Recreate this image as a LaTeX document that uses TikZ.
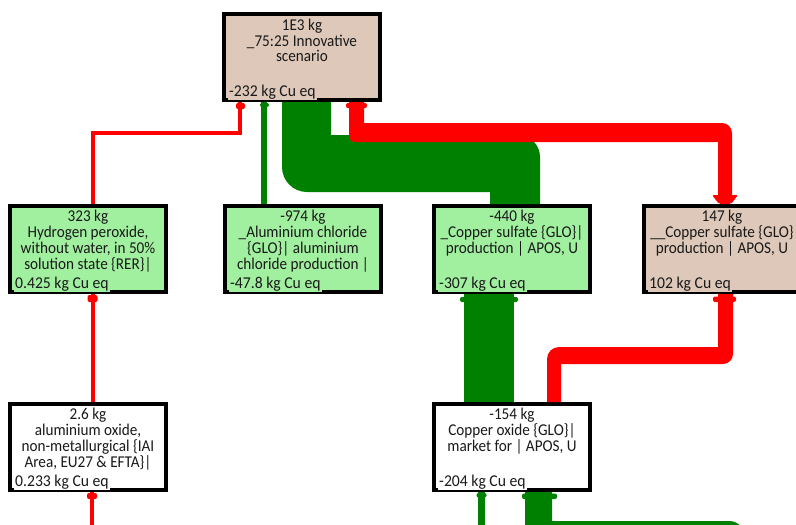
\documentclass[tikz,border=0pt]{standalone}
\usepackage{graphicx}
\usepackage{fontspec}
\setmainfont{Carlito}
\definecolor{beige}{RGB}{222,200,185}
\definecolor{lgreen}{RGB}{160,240,160}
\definecolor{fgreen}{RGB}{0,128,0}
\definecolor{fred}{RGB}{255,0,0}
\definecolor{ink}{RGB}{25,25,25}
\tikzset{
 box/.style={draw=black, line width=4pt, minimum width=156pt, minimum height=86pt, anchor=north west, inner sep=0pt, outer sep=2pt},
 maintxt/.style={anchor=north, inner sep=0pt, text=ink, font=\fontsize{16.5}{14.9}\selectfont},
 valtxt/.style={anchor=base west, inner xsep=1pt, inner ysep=0pt, text=ink, text height=11pt, text depth=4pt, font=\fontsize{16.5}{15}\selectfont},
 gflow/.style={fill=fgreen},
 rflow/.style={fill=fred},
 thinr/.style={draw=fred, line width=4pt},
 thing/.style={draw=fgreen, line width=6.5pt},
 capr/.style={fill=fred, rounded corners=2pt},
 capg/.style={fill=fgreen, rounded corners=2pt},
}
\newcommand{\st}{\rule{0pt}{11.5pt}}
\newcommand{\mt}[1]{\scalebox{0.92}[1]{\begin{tabular}{@{}c@{}}\st #1\end{tabular}}}
\newcommand{\vt}[1]{\scalebox{0.95}[1]{#1}}
\begin{document}
\begin{tikzpicture}[x=1pt,y=-1pt]
\useasboundingbox (0,0) rectangle (796,525);
% boxes
\node[box, fill=beige]  (T) at (222,12)  {};
\node[box, fill=lgreen] (H) at (8,204)   {};
\node[box, fill=lgreen] (A) at (223,204) {};
\node[box, fill=lgreen] (C) at (432,204) {};
\node[box, fill=beige]  (B) at (642,204) {};
\node[box, fill=white]  (O) at (8,402)   {};
\node[box, fill=white]  (X) at (432,402) {};
% main texts
\node[maintxt] (Tt) at ([yshift=-6.5pt]T.north) {\mt{1E3 kg\\\_75:25 Innovative\\scenario}};
\node[maintxt] (Ht) at ([yshift=-5.5pt]H.north) {\mt{323 kg\\Hydrogen peroxide,\\without water, in 50\%\\solution state \{RER\}|}};
\node[maintxt] (At) at ([yshift=-5.5pt]A.north) {\mt{-974 kg\\\_Aluminium chloride\\\{GLO\}| aluminium\\chloride production |}};
\node[maintxt] (Ct) at ([yshift=-5.5pt]C.north) {\mt{-440 kg\\\_Copper sulfate \{GLO\}|\\production | APOS, U}};
\node[maintxt] (Bt) at ([yshift=-5.5pt]B.north) {\mt{147 kg\\\_\_Copper sulfate \{GLO\}\\production | APOS, U}};
\node[maintxt] (Ot) at ([yshift=-5.5pt]O.north) {\mt{2.6 kg\\aluminium oxide,\\non-metallurgical \{IAI\\Area, EU27 \& EFTA\}|}};
\node[maintxt] (Xt) at ([yshift=-5.5pt]X.north) {\mt{-154 kg\\Copper oxide \{GLO\}|\\market for | APOS, U}};
% value labels
\node[valtxt, fill=beige]  (Tv) at ([xshift=6pt,yshift=5.7pt]T.south west) {\vt{-232 kg Cu eq}};
\node[valtxt, fill=lgreen] (Hv) at ([xshift=6pt,yshift=5.7pt]H.south west) {\vt{0.425 kg Cu eq}};
\node[valtxt, fill=lgreen] (Av) at ([xshift=6pt,yshift=5.7pt]A.south west) {\vt{-47.8 kg Cu eq}};
\node[valtxt, fill=lgreen] (Cv) at ([xshift=6pt,yshift=5.7pt]C.south west) {\vt{-307 kg Cu eq}};
\node[valtxt, fill=beige]  (Bv) at ([xshift=6pt,yshift=5.7pt]B.south west) {\vt{102 kg Cu eq}};
\node[valtxt, fill=white]  (Ov) at ([xshift=6pt,yshift=5.7pt]O.south west) {\vt{0.233 kg Cu eq}};
\node[valtxt, fill=white]  (Xv) at ([xshift=6pt,yshift=5.7pt]X.south west) {\vt{-204 kg Cu eq}};
% free ends
\coordinate (rb) at (92,530);
\coordinate (gb) at (481.5,530);
\coordinate (gB) at (538.5,560);
% big green C -> T
\fill[gflow] (282,0 |- T.south) -- (331,0 |- T.south) -- (331,135) -- (518,135)
  .. controls (530.2,135) and (540,144.8) .. (540,157) -- (540,0 |- C.north)
  -- (490,0 |- C.north) -- (490,192) -- (307,192)
  .. controls (293.2,192) and (282,180.8) .. (282,167) -- cycle;
% big red T -> B
\fill[rflow] (349,0 |- T.south) -- (364,0 |- T.south) -- (364,123) -- (722,123)
  .. controls (727.5,123) and (732,127.5) .. (732,133) -- (732,196) -- (718,196)
  -- (718,142) -- (355,142) .. controls (351.7,142) and (349,139.3) .. (349,136) -- cycle;
\fill[capr] (346,103) rectangle (367,108);
\fill[fred, rounded corners=2pt] (712,195) -- (738,195) -- (731,0 |- B.north) -- (719,0 |- B.north) -- cycle;
% thin red H -> T
\draw[thinr] (92.5,0 |- H.north) |- (240,133) -- (240,0 |- T.south);
\fill[capr] (236,103) rectangle (245,109);
% thin green A -> T
\draw[thing] (264,0 |- A.north) -- (264,0 |- T.south);
\fill[capg] (260,103) rectangle (269,107);
% big green X -> C
\fill[gflow] (464,0 |- X.north) rectangle (514,0 |- C.south);
\fill[capg] (460,297) rectangle (518,302);
% red X -> B
\fill[rflow] (547,0 |- X.north) -- (547,359) .. controls (547,352.4) and (552.4,347) .. (559,347)
  -- (718,347) -- (718,0 |- B.south) -- (733,0 |- B.south) -- (733,354)
  .. controls (733,359.5) and (728.5,364) .. (723,364) -- (561,364) -- (561,0 |- X.north) -- cycle;
\fill[capr] (713,296.5) rectangle (736,302);
% thin red O -> H
\draw[thinr] (92.5,0 |- O.north) -- (92.5,0 |- H.south);
\fill[capr] (87.5,295) rectangle (97.5,302);
% thin red from below -> O
\draw[thinr] (rb) -- (92,0 |- O.south);
\fill[capr] (87,493) rectangle (97,499);
% thin green from below -> X
\draw[thing] (gb) -- (481.5,0 |- X.south);
\fill[capg] (476.5,493) rectangle (486.5,497.5);
% thick green from below -> X
\fill[gflow] (525,0 |- X.south) -- (552,0 |- X.south) -- (552,521) -- (729,521)
  .. controls (737.8,521) and (745,528.2) .. (745,537) -- (745,560) -- (gB) -- (525,560) -- cycle;
\fill[capg] (522,493.5) rectangle (557,499);
\end{tikzpicture}
\end{document}
